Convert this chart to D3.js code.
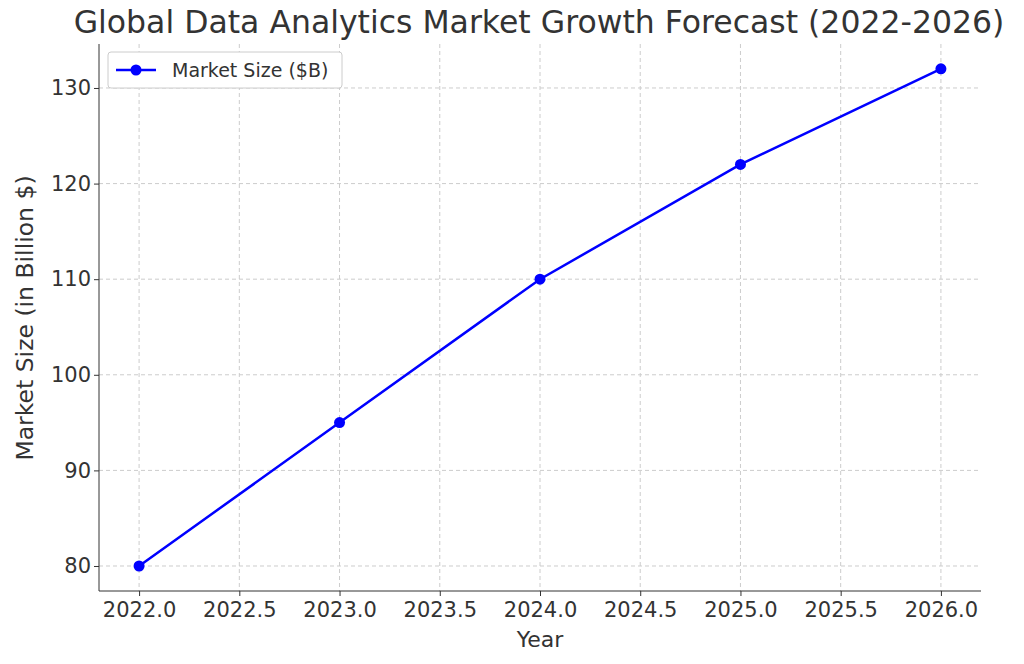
<!DOCTYPE html>
<html><head><meta charset="utf-8">
<script src="https://cdn.jsdelivr.net/npm/d3@7"></script>
<style>body{margin:0;background:#fff}text{font-family:"DejaVu Sans",sans-serif;fill:#333}</style>
</head><body><svg id="c" width="1024" height="664"></svg>
<script>
const years=[2022,2023,2024,2025,2026];
const marketSize=[80,95,110,122,132];
const xTicks=[2022,2022.5,2023,2023.5,2024,2024.5,2025,2025.5,2026];
const yTicks=[80,90,100,110,120,130];
const svg=d3.select("#c");
const L=99,R=981,T=44,B=591;
const x=d3.scaleLinear().domain([2021.8,2026.2]).range([L,R]);
const y=d3.scaleLinear().domain([77.385,134.6]).range([B,T]);
const g=svg.append("g");
g.selectAll(".vx").data(xTicks).join("line").attr("x1",d=>x(d)).attr("x2",d=>x(d)).attr("y1",T).attr("y2",B).attr("stroke","#ccc").attr("stroke-dasharray","4,3");
g.selectAll(".hy").data(yTicks).join("line").attr("y1",d=>y(d)).attr("y2",d=>y(d)).attr("x1",L).attr("x2",R).attr("stroke","#ccc").attr("stroke-dasharray","4,3");
const xa=svg.append("g").attr("transform",`translate(0,${B})`).call(d3.axisBottom(x).tickValues(xTicks).tickFormat(d3.format(".1f")).tickSize(5));
const ya=svg.append("g").attr("transform",`translate(${L},0)`).call(d3.axisLeft(y).tickValues(yTicks).tickSize(5));
[xa,ya].forEach(a=>{a.selectAll("text").style("font-size","21px").attr("fill","#333");a.select(".domain").remove();a.selectAll(".tick line").attr("stroke","#333");});
xa.selectAll("text").attr("dy","0.85em");
svg.append("line").attr("x1",L).attr("x2",L).attr("y1",T).attr("y2",B).attr("stroke","#333");
svg.append("line").attr("x1",L).attr("x2",R).attr("y1",B).attr("y2",B).attr("stroke","#333");
svg.append("path").datum(years.map((d,i)=>[d,marketSize[i]])).attr("fill","none").attr("stroke","#0000ff").attr("stroke-width",2.5).attr("d",d3.line().x(d=>x(d[0])).y(d=>y(d[1])));
svg.selectAll(".pt").data(years).join("circle").attr("cx",d=>x(d)).attr("cy",(d,i)=>y(marketSize[i])).attr("r",5.5).attr("fill","#0000ff");
svg.append("text").attr("x",539).attr("y",33).attr("text-anchor","middle").style("font-size","31.5px").text("Global Data Analytics Market Growth Forecast (2022-2026)");
svg.append("text").attr("x",540).attr("y",647).attr("text-anchor","middle").style("font-size","22px").text("Year");
svg.append("text").attr("transform","translate(33,318) rotate(-90)").attr("text-anchor","middle").style("font-size","23.5px").text("Market Size (in Billion $)");
const lg=svg.append("g");
lg.append("rect").attr("x",108).attr("y",52).attr("width",234).attr("height",36).attr("rx",3).attr("fill","#fff").attr("stroke","#ccc");
lg.append("line").attr("x1",116).attr("x2",156).attr("y1",70).attr("y2",70).attr("stroke","#0000ff").attr("stroke-width",2.5);
lg.append("circle").attr("cx",136).attr("cy",70).attr("r",5.5).attr("fill","#0000ff");
lg.append("text").attr("x",172).attr("y",77).style("font-size","19px").text("Market Size ($B)");
</script></body></html>
